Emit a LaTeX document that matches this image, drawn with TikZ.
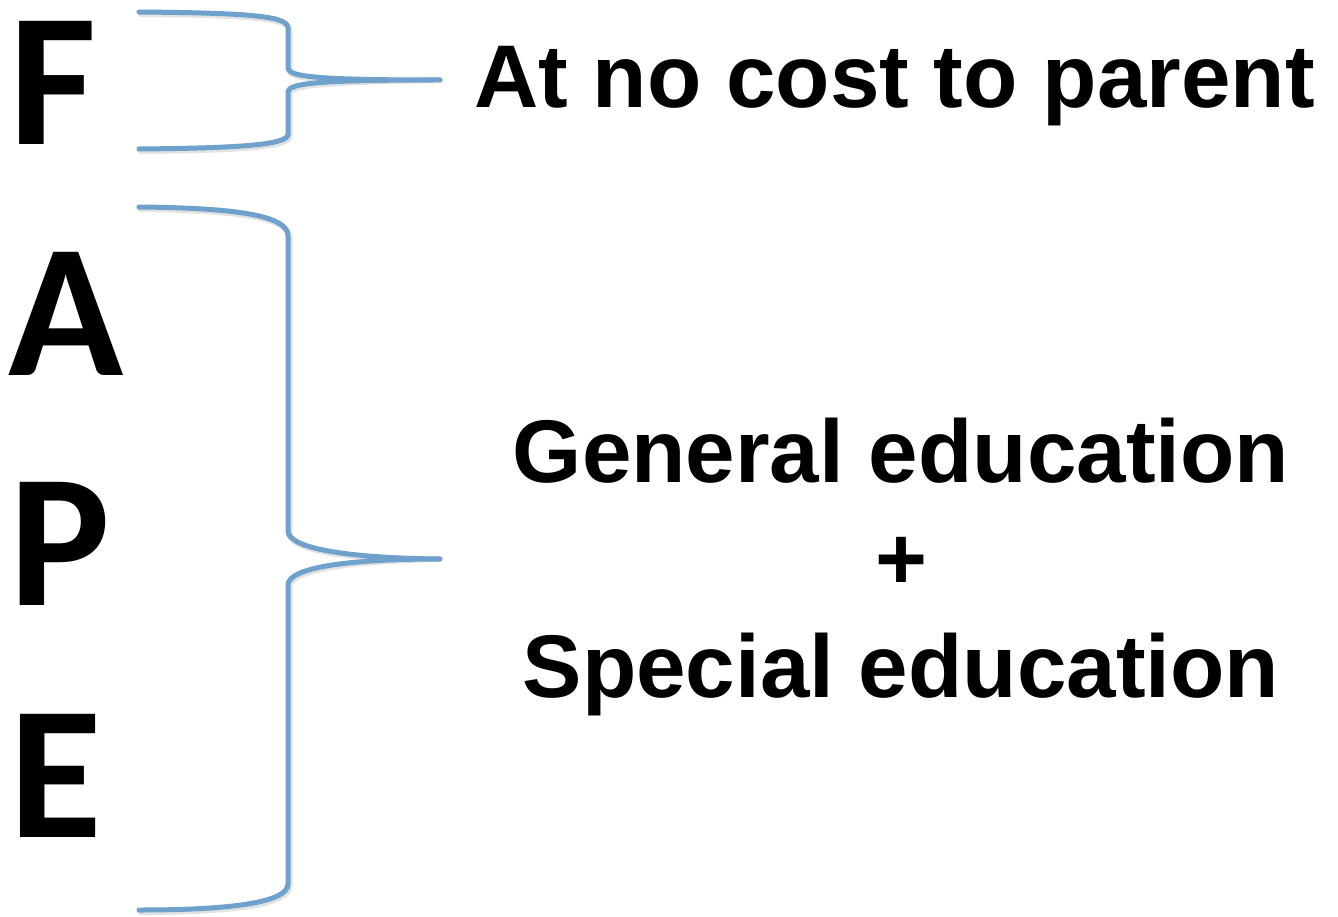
\documentclass[tikz,border=0pt]{standalone}
\usepackage{fontspec}
\setmainfont{Liberation Sans}
\newfontfamily\calib{Carlito}
\definecolor{braceblue}{HTML}{6FA1CC}
\tikzset{
  bracestroke/.style={draw=braceblue, line width=5pt, line cap=round, line join=round},
  braceshadow/.style={draw=black!45, opacity=0.25, line width=6pt, line cap=round, line join=round},
  bigletter/.style={anchor=base west, inner sep=0pt, font=\calib\bfseries\fontsize{190}{200}\selectfont},
  txtlabel/.style={inner sep=0pt, font=\bfseries\fontsize{89}{108}\selectfont}
}
\begin{document}
\begin{tikzpicture}[x=1pt,y=-1pt]
\useasboundingbox (0,0) rectangle (1338,917);
\fill[white] (0,0) rectangle (1338,917);
% letters
\node[bigletter] (F) at (9,145) {F};
\node[bigletter] (A) at (8,375) {A};
\node[bigletter] (P) at (9,605) {P};
\node[bigletter] (E) at (9,837) {E};
% texts
\node[txtlabel, anchor=base west] (cost) at (474,108) {At no cost to parent};
\node[txtlabel, anchor=base] (gen) at (901,482) {General education};
\node[txtlabel, anchor=base] (plus) at (901,589.5) {+};
\node[txtlabel, anchor=base] (spec) at (901,697) {Special education};
% brace tips
\coordinate (tip1) at (440,80);
\coordinate (tip2) at (440,559);
% braces
\foreach \s/\dx/\dy in {braceshadow/1.5/2, bracestroke/0/0}{
\begin{scope}[shift={(\dx,\dy)}]
\draw[\s] (139,12) .. controls (250,13) and (288,16) .. (288,28)
  -- (288,68) .. controls (288,77) and (320,80) .. (tip1)
  .. controls (320,80) and (288,83) .. (288,92)
  -- (288,134) .. controls (288,144) and (250,148) .. (139,149);
\draw[\s] (139,207) .. controls (240,208) and (288,216) .. (288,236)
  -- (288,531) .. controls (288,548) and (345,558) .. (tip2)
  .. controls (345,559) and (288,568) .. (288,585)
  -- (288,884) .. controls (288,901) and (240,910) .. (139,910);
\end{scope}
}
\end{tikzpicture}
\end{document}
